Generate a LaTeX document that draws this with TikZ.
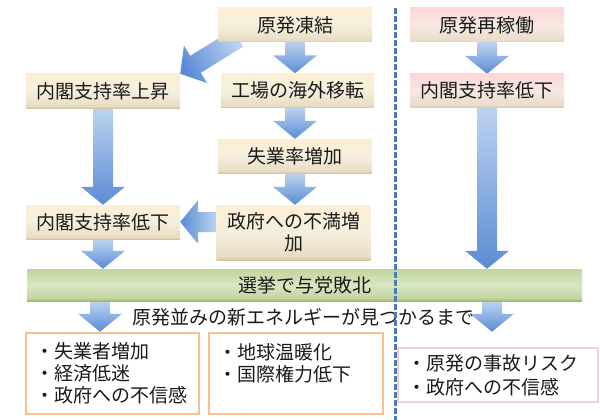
\documentclass[tikz,border=0pt]{standalone}
\usepackage{fontspec}
\usetikzlibrary{calc,backgrounds,positioning}
\newfontfamily\jpfont{Noto Sans CJK JP}

\definecolor{txt}{HTML}{1A1A1A}
\definecolor{creamT}{HTML}{FDEFD4}
\definecolor{creamM}{HTML}{F6EFDE}
\definecolor{creamE}{HTML}{E8DDC3}
\definecolor{creamB}{HTML}{D5C6A0}
\definecolor{pinkT}{HTML}{FDD7D6}
\definecolor{pinkM}{HTML}{F7E8E2}
\definecolor{pinkE}{HTML}{EADDCB}
\definecolor{pinkB}{HTML}{DACDB3}
\definecolor{greenT}{HTML}{C2D59A}
\definecolor{greenM}{HTML}{DAE6C2}
\definecolor{greenE}{HTML}{C3D49E}
\definecolor{greenB}{HTML}{9CBA60}
\definecolor{arrowL}{HTML}{BCD3F0}
\definecolor{arrowD}{HTML}{5A8CD5}
\definecolor{orng}{HTML}{FAC08F}
\definecolor{pinkline}{HTML}{F6CFCF}
\definecolor{sepblue}{HTML}{4A7EBB}

\pgfdeclareverticalshading{creambox}{100bp}{color(0bp)=(creamB); color(25bp)=(creamB); color(28bp)=(creamE); color(50bp)=(creamM); color(75bp)=(creamT); color(100bp)=(creamT)}
\pgfdeclareverticalshading{pinkbox}{100bp}{color(0bp)=(pinkB); color(25bp)=(pinkB); color(28bp)=(pinkE); color(50bp)=(pinkM); color(75bp)=(pinkT); color(100bp)=(pinkT)}
\pgfdeclareverticalshading{greenbar}{100bp}{color(0bp)=(greenB); color(25bp)=(greenB); color(29bp)=(greenE); color(50bp)=(greenM); color(75bp)=(greenT); color(100bp)=(greenT)}

% fat shaded arrow from #2 to #3
\newcommand{\fatarrow}[3]{%
  \path[#1] ($(#2)!10pt!90:(#3)$) -- ($(#3)!18pt!(#2)!10pt!90:(#3)$) -- ($(#3)!18pt!(#2)!22pt!90:(#3)$) -- (#3)
    -- ($(#3)!18pt!(#2)!22pt!-90:(#3)$) -- ($(#3)!18pt!(#2)!10pt!-90:(#3)$) -- ($(#2)!10pt!-90:(#3)$) -- cycle;}

\tikzset{
  jp/.style={font=\jpfont\fontsize{19}{22}\selectfont, text=txt},
  cbox/.style={jp, shading=creambox, minimum width=154pt, minimum height=34pt, inner sep=0pt},
  pbox/.style={cbox, shading=pinkbox},
  gbar/.style={jp, shading=greenbar, minimum width=555pt, minimum height=32pt, inner sep=0pt},
  obox/.style={jp, draw=orng, line width=2.5pt, align=left, inner xsep=9pt, inner ysep=0pt},
  fatv/.style={top color=arrowL, bottom color=arrowD},
  fatl/.style={left color=arrowD, right color=arrowL},
  fatd/.style={top color=arrowL, bottom color=arrowD, shading angle=-60},
  sepline/.style={draw=sepblue, line width=3pt, dash pattern=on 6pt off 2pt}
}

\begin{document}
\begin{tikzpicture}[x=1pt, y=-1pt]
  \useasboundingbox (0,0) rectangle (600,420);

  % left side
  \node[cbox] (frz) at (295,25) {原発凍結};
  \node[cbox] (riseL) at (103,91) {内閣支持率上昇};
  \node[cbox, minimum width=153pt] (fac) at (297.5,90.5) {工場の海外移転};
  \node[cbox] (unemp) at (295,156) {失業率増加};
  \node[cbox, minimum height=55pt, align=center] (gov) at (293.5,232.5) {政府への不満増\\加};
  \node[cbox] (lowL) at (103,222) {内閣支持率低下};

  % right side
  \node[pbox] (restart) at (487,25) {原発再稼働};
  \node[pbox, minimum height=33pt] (lowR) at (487,90.5) {内閣支持率低下};

  \node[gbar] (elect) at (304.5,285) {選挙で与党敗北};
  \node[jp] (note) at (303,317) {原発並みの新エネルギーが見つかるまで};

  \node[obox, text width=155pt, minimum height=81pt] (box1) at (112.5,373.5) {・失業者増加\\・経済低迷\\・政府への不信感};
  \node[obox, text width=156pt, minimum height=81pt] (box2) at (296,373.5) {・地球温暖化\\・国際権力低下\\\mbox{}};
  \node[obox, draw=pinkline, font=\jpfont\fontsize{19}{24}\selectfont, text width=182pt, minimum height=54pt] (box3) at (498,375) {・原発の事故リスク\\・政府への不信感};

  \coordinate (sepT) at (395,8);
  \coordinate (sepB) at (395,420);
  \draw[sepline] (sepT) -- (sepB);

  % arrow ends
  \coordinate (facTop) at (frz.south |- fac.north);
  \coordinate (facBot) at (unemp.north |- fac.south);
  \coordinate (govTop) at (unemp.south |- gov.north);
  \coordinate (govLeft) at (gov.west |- lowL.east);
  \coordinate (frzTail) at ($(frz.south west)+(20,-4)$);
  \coordinate (electL) at (lowL.south |- elect.north);
  \coordinate (electR) at (lowR.south |- elect.north);
  \coordinate (outL) at ($(lowL.south |- elect.south)+(-3,0)$);
  \coordinate (outLend) at (outL |- box1.north);
  \coordinate (outR) at ($(lowR.south |- elect.south)+(5,0)$);
  \coordinate (outRend) at (outR |- box1.north);

  \begin{pgfonlayer}{background}
    \fill[white] (0,0) rectangle (600,420);
    \fatarrow{fatv}{frz.south}{facTop}
    \fatarrow{fatv}{facBot}{unemp.north}
    \fatarrow{fatv}{unemp.south}{govTop}
    \fatarrow{fatl}{govLeft}{lowL.east}
    \fatarrow{fatd}{frzTail}{riseL.north east}
    \fatarrow{fatv}{riseL.south}{lowL.north}
    \fatarrow{fatv}{lowL.south}{electL}
    \fatarrow{fatv}{restart.south}{lowR.north}
    \fatarrow{fatv}{lowR.south}{electR}
    \fatarrow{fatv}{outL}{outLend}
    \fatarrow{fatv}{outR}{outRend}
  \end{pgfonlayer}
\end{tikzpicture}
\end{document}
